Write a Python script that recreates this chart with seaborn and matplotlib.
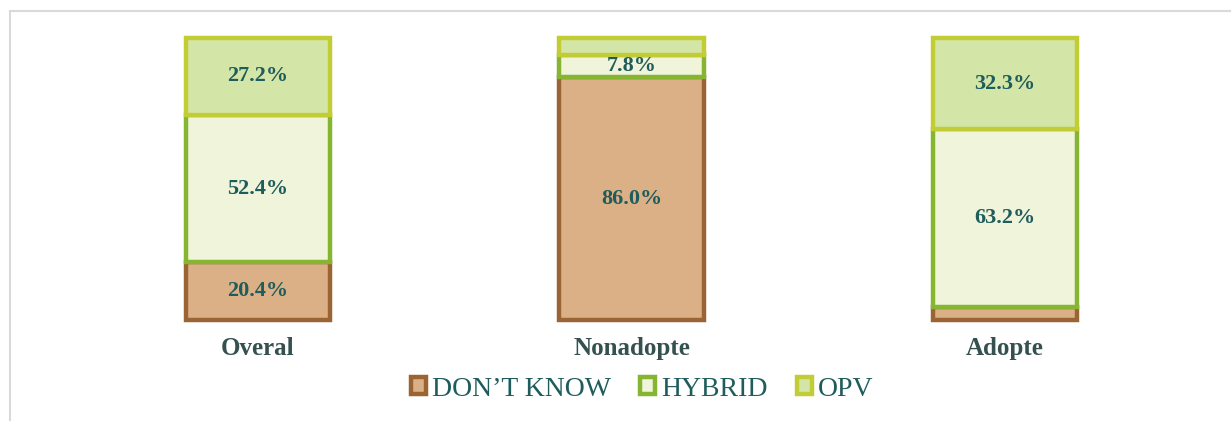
import matplotlib
matplotlib.use("Agg")
import matplotlib.pyplot as plt
from matplotlib.patches import Patch, Rectangle
import seaborn as sns
import pandas as pd
import numpy as np

categories = ["Overal", "Nonadopte", "Adopte"]
series_names = ["DON\u2019T KNOW", "HYBRID", "OPV"]
dont_know = [20.4, 86.0, 4.5]
hybrid = [52.4, 7.8, 63.2]
opv = [27.2, 6.2, 32.3]
labels_dont_know = ["20.4%", "86.0%", ""]
labels_hybrid = ["52.4%", "7.8%", "63.2%"]
labels_opv = ["27.2%", "", "32.3%"]

face_colors = ["#dbb087", "#eff4da", "#d3e6a8"]
edge_colors = ["#9a6532", "#86b531", "#c2cd35"]
label_color = "#1f5c5c"
cat_color = "#34504f"

sns.set_theme(style="white")
plt.rcParams["font.family"] = ["Liberation Serif", "DejaVu Serif"]

fig = plt.figure(figsize=(12.31, 4.21), dpi=100)
ax = fig.add_axes([71.25 / 1231, (421 - 320) / 421, 1120.5 / 1231, 282 / 421])

# outer frame
fig.patches.append(Rectangle((10 / 1231, -0.2), 1.2, 0.2 + (421 - 10.5) / 421,
                             transform=fig.transFigure, fill=False,
                             edgecolor="#d9d9d9", linewidth=1.5, zorder=0))

series_vals = [dont_know, hybrid, opv]
series_labels = [labels_dont_know, labels_hybrid, labels_opv]
bottoms = np.zeros(len(categories))
for name, vals, labs, fc, ec in zip(series_names, series_vals, series_labels, face_colors, edge_colors):
    df = pd.DataFrame({"cat": categories, "val": vals})
    sns.barplot(data=df, x="cat", y="val", order=categories, ax=ax,
                color=fc, saturation=1, width=0.386, bottom=bottoms.copy(),
                edgecolor=ec, linewidth=3.2, errorbar=None, clip_on=False)
    for i, (v, lab) in enumerate(zip(vals, labs)):
        if lab:
            ax.text(i, bottoms[i] + v / 2, lab, ha="center", va="center",
                    fontsize=16, fontweight="bold", color=label_color,
                    family=["Liberation Serif", "DejaVu Serif"])
    bottoms = bottoms + np.array(vals)

ax.set_xlim(-0.5, 2.5)
ax.set_ylim(0, 100)
ax.set_xlabel("")
ax.set_ylabel("")
ax.set_yticks([])
ax.tick_params(axis="x", length=0, pad=12)
for t in ax.get_xticklabels():
    t.set_fontsize(18)
    t.set_fontweight("bold")
    t.set_color(cat_color)
    t.set_family(["Liberation Serif", "DejaVu Serif"])
for s in ax.spines.values():
    s.set_visible(False)
ax.set_facecolor("none")

handles = [Patch(facecolor=fc, edgecolor=ec, linewidth=3.2) for fc, ec in zip(face_colors, edge_colors)]
leg = fig.legend(handles, series_names, loc="center", bbox_to_anchor=(642 / 1231, (421 - 389) / 421),
                 ncol=3, frameon=False, fontsize=20, handlelength=0.55, handleheight=0.55,
                 handletextpad=0.2, columnspacing=1.05, borderaxespad=0)
for t in leg.get_texts():
    t.set_color(label_color)

fig.savefig("out.png", dpi=100)
